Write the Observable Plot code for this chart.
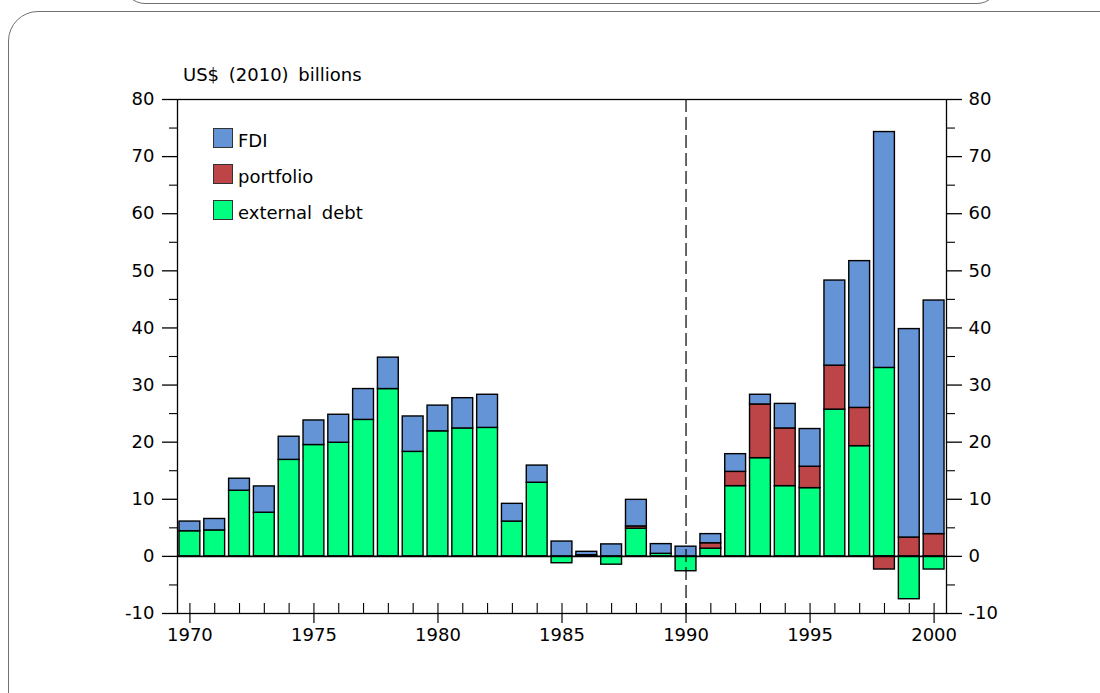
<!doctype html>
<html>
<head>
<meta charset="utf-8">
<style>
  body { margin: 0; background: #fff; }
  #wrap { position: relative; width: 1100px; height: 693px; overflow: hidden; font-family: "DejaVu Sans", sans-serif; color: #000; }
  .panel { position: absolute; border: 1.5px solid #707070; box-sizing: border-box; }
  .txt { position: absolute; font-size: 18px; line-height: 18px; white-space: nowrap; word-spacing: 4px; }
  .sw { position: absolute; width: 20px; height: 20px; box-sizing: border-box; border: 1.5px solid #333; }
  #myplot { position: absolute; left: 0; top: 0; }
</style>
</head>
<body>
<div id="wrap">
  <div class="panel" style="left:123px; top:-60px; width:876px; height:64px; border-radius:22px;"></div>
  <div class="panel" style="left:8px; top:11px; width:1130px; height:720px; border-radius:30px;"></div>
  <div id="myplot"></div>
  <div class="txt" style="left:183px; top:66px;">US$ (2010) billions</div>
  <div id="legend"></div>
</div>
<script src="https://cdn.jsdelivr.net/npm/d3@7"></script>
<script src="https://cdn.jsdelivr.net/npm/@observablehq/plot@0.6"></script>
<script>
  const years = d3.range(1970, 2001);
  // stacked bottom to top: external debt, portfolio, FDI
  const externalDebt = [4.4, 4.55, 11.5, 7.65, 16.9, 19.5, 19.9, 23.9, 29.3, 18.3,
    21.9, 22.4, 22.5, 6.1, 12.9, -1.2, 0.2, -1.45, 4.85, 0.45,
    -2.6, 1.35, 12.3, 17.2, 12.3, 11.95, 25.7, 19.3, 33.0, -7.5, -2.3];
  const portfolio = [0, 0, 0, 0, 0, 0, 0, 0, 0, 0,
    0, 0, 0, 0, 0, 0, 0, 0, 0.4, 0,
    0, 0.95, 2.5, 9.4, 10.1, 3.75, 7.7, 6.7, -2.3, 3.3, 3.9];
  const fdi = [1.7, 2.0, 2.1, 4.6, 4.05, 4.3, 4.9, 5.4, 5.5, 6.2,
    4.5, 5.3, 5.8, 3.1, 3.0, 2.6, 0.6, 2.1, 4.65, 1.7,
    1.7, 1.6, 3.1, 1.7, 4.3, 6.6, 14.9, 25.7, 41.3, 36.5, 40.9];

  const seriesNames = ["external debt", "portfolio", "FDI"];
  const seriesColors = ["#00ff80", "#bd4447", "#6594d6"];
  const legendOrder = ["FDI", "portfolio", "external debt"];

  const yMajor = d3.range(-10, 81, 10);
  const yMinor = d3.range(-5, 80, 10);
  const xLabels = d3.range(1970, 2001, 5);

  const rows = [];
  [externalDebt, portfolio, fdi].forEach((vals, s) => {
    vals.forEach((v, i) => {
      if (v !== 0) rows.push({ year: years[i], value: v, series: seriesNames[s] });
    });
  });

  const plain = (d) => String(d); // hyphen minus, no thousands comma

  const plot = Plot.plot({
    width: 1100,
    height: 693,
    marginLeft: 177,
    marginRight: 154,
    marginTop: 99,
    marginBottom: 80,
    style: { fontFamily: "DejaVu Sans, sans-serif", fontSize: "18px", color: "black", background: "transparent", overflow: "visible" },
    x: { type: "band", domain: years, paddingInner: 0.16, paddingOuter: 0.08, round: false, axis: null, label: null },
    y: { domain: [-10, 80], axis: null, label: null },
    color: { domain: seriesNames, range: seriesColors },
    marks: [
      Plot.barY(rows, { x: "year", y: "value", fill: "series", stroke: "black", strokeWidth: 1.4 }),
      Plot.ruleY([0], { stroke: "black", strokeWidth: 1.6 }),
      Plot.ruleX([1990], { stroke: "black", strokeWidth: 1.2, strokeDasharray: "13,5" }),
      Plot.tickX(years, { x: (d) => d, insetTop: 504, stroke: "black", strokeWidth: 1.1 }),
      Plot.frame({ stroke: "black", strokeWidth: 1.3 }),
      Plot.axisY(yMajor, { anchor: "left", tickSize: 15, tickPadding: 8, tickFormat: plain, stroke: "black", strokeWidth: 1.3, fontSize: 18, label: null }),
      Plot.axisY(yMinor, { anchor: "left", tickSize: 8, tickFormat: () => "", stroke: "black", strokeWidth: 1.1, label: null }),
      Plot.axisY(yMajor, { anchor: "right", tickSize: 15, tickPadding: 7, tickFormat: plain, stroke: "black", strokeWidth: 1.3, fontSize: 18, label: null }),
      Plot.axisY(yMinor, { anchor: "right", tickSize: 8, tickFormat: () => "", stroke: "black", strokeWidth: 1.1, label: null }),
      Plot.axisX(xLabels, { anchor: "bottom", tickSize: 10, tickPadding: 5, tickFormat: plain, stroke: "black", strokeWidth: 1.2, fontSize: 18, label: null })
    ]
  });

  document.querySelector("#myplot").append(plot);

  // legend inside the plot area
  const legend = document.querySelector("#legend");
  legendOrder.forEach((name, i) => {
    const sw = document.createElement("div");
    sw.className = "sw";
    sw.style.left = "213px";
    sw.style.top = (128 + i * 36) + "px";
    sw.style.background = seriesColors[seriesNames.indexOf(name)];
    legend.append(sw);
    const t = document.createElement("div");
    t.className = "txt";
    t.style.left = "238px";
    t.style.top = (132 + i * 36) + "px";
    t.textContent = name;
    legend.append(t);
  });
</script>
</body>
</html>
